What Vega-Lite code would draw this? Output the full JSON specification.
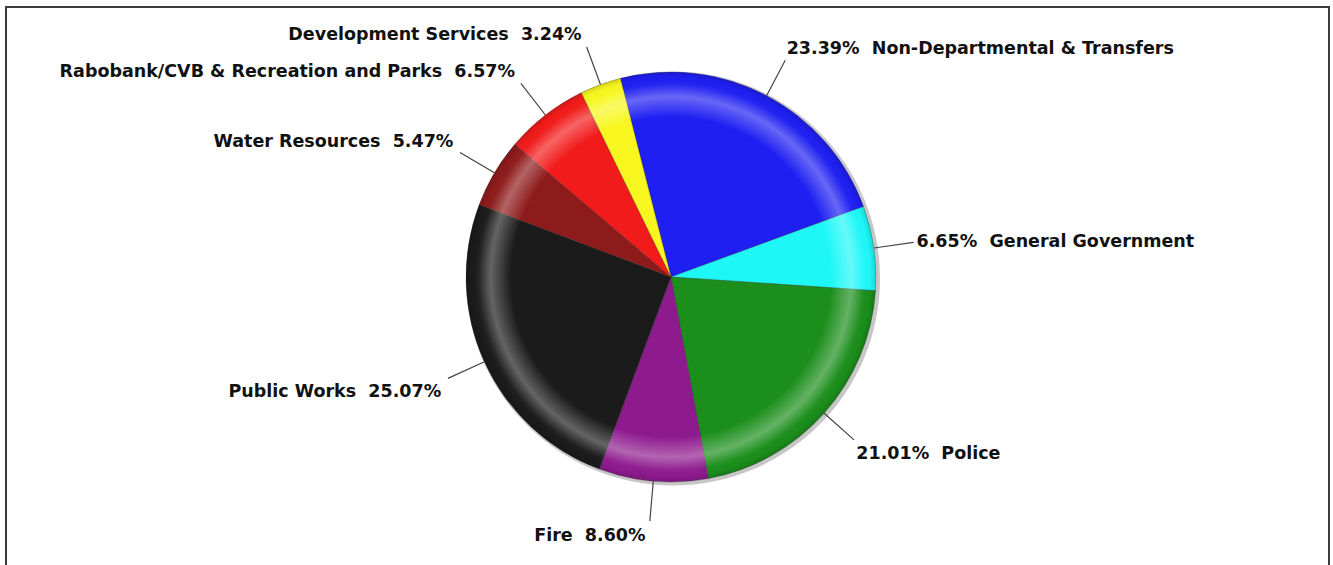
{
  "$schema": "https://vega.github.io/schema/vega-lite/v6.json",
  "width": 1323,
  "height": 560,
  "autosize": {"type": "none"},
  "padding": {"left": 6, "top": 7, "right": 4, "bottom": 0},
  "background": "white",
  "config": {"view": {"stroke": "#3a3a3a", "strokeWidth": 2}},
  "data": {
    "values": [
      {"ord": 1, "name": "Non-Departmental & Transfers", "pct": 23.39, "label": "23.39%\u00a0\u00a0Non-Departmental & Transfers"},
      {"ord": 2, "name": "General Government", "pct": 6.65, "label": "6.65%\u00a0\u00a0General Government"},
      {"ord": 3, "name": "Police", "pct": 21.01, "label": "21.01%\u00a0\u00a0Police"},
      {"ord": 4, "name": "Fire", "pct": 8.60, "label": "Fire\u00a0\u00a08.60%"},
      {"ord": 5, "name": "Public Works", "pct": 25.07, "label": "Public Works\u00a0\u00a025.07%"},
      {"ord": 6, "name": "Water Resources", "pct": 5.47, "label": "Water Resources\u00a0\u00a05.47%"},
      {"ord": 7, "name": "Rabobank/CVB & Recreation and Parks", "pct": 6.57, "label": "Rabobank/CVB & Recreation and Parks\u00a0\u00a06.57%"},
      {"ord": 8, "name": "Development Services", "pct": 3.24, "label": "Development Services\u00a0\u00a03.24%"}
    ]
  },
  "layer": [
    {
      "mark": {"type": "point", "opacity": 0},
      "encoding": {
        "x": {"field": "pct", "type": "quantitative", "axis": null},
        "y": {"field": "ord", "type": "quantitative", "axis": null}
      }
    },
    {
      "data": {"values": [{"k": "shadow"}]},
      "mark": {"type": "arc", "theta": 0, "theta2": 6.2832, "radius": 207, "fill": "#bdbdbd", "fillOpacity": 0.85, "xOffset": 5.5, "yOffset": -8.5},
      "encoding": {}
    },
    {
      "mark": {"type": "arc", "radius": 205, "xOffset": 3.5, "yOffset": -10, "stroke": "#222222", "strokeWidth": 0.5, "strokeOpacity": 0.5},
      "encoding": {
        "theta": {"field": "pct", "type": "quantitative", "stack": true, "scale": {"range": [-0.2496, 6.0336]}},
        "order": {"field": "ord", "type": "quantitative"},
        "color": {
          "field": "name",
          "type": "nominal",
          "scale": {
            "domain": ["Non-Departmental & Transfers", "General Government", "Police", "Fire", "Public Works", "Water Resources", "Rabobank/CVB & Recreation and Parks", "Development Services"],
            "range": ["#1f1ff2", "#1ff7f7", "#1b8e1b", "#8e1b8e", "#1b1b1b", "#8e1b1b", "#f21b1b", "#f7f71f"]
          },
          "legend": null
        }
      }
    },
    {
      "data": {"values": [{"k": "gloss"}]},
      "mark": {
        "type": "arc", "theta": 0, "theta2": 6.2832, "radius": 205, "xOffset": 3.5, "yOffset": -10,
        "fill": {
          "gradient": "radial", "x1": 0.5, "y1": 0.5, "r1": 0, "x2": 0.5, "y2": 0.5, "r2": 0.5,
          "stops": [
            {"offset": 0, "color": "rgba(255,255,255,0)"},
            {"offset": 0.78, "color": "rgba(255,255,255,0)"},
            {"offset": 0.88, "color": "rgba(255,255,255,0.32)"},
            {"offset": 0.94, "color": "rgba(255,255,255,0.04)"},
            {"offset": 0.97, "color": "rgba(0,0,0,0)"},
            {"offset": 1, "color": "rgba(0,0,0,0.14)"}
          ]
        }
      },
      "encoding": {}
    },
    {
      "mark": {"type": "arc", "radius": 245, "radius2": 205, "padAngle": 3, "fill": "white", "fillOpacity": 0, "stroke": "#444444", "strokeWidth": 1.2, "xOffset": 3.5, "yOffset": -10},
      "encoding": {
        "theta": {"field": "pct", "type": "quantitative", "stack": true},
        "order": {"field": "ord", "type": "quantitative"}
      }
    },
    {
      "mark": {
        "type": "text", "radius": 248, "xOffset": 3.5, "yOffset": -10,
        "font": "DejaVu Sans", "fontWeight": "bold", "fontSize": 17.5, "color": "#111111",
        "align": {"expr": "(datum.pct_start + datum.pct_end) / 2 > 50 ? 'right' : 'left'"},
        "dx": {"expr": "(datum.pct_start + datum.pct_end) / 2 > 50 ? -4 : 0"},
        "baseline": {"expr": "cos(((datum.pct_start + datum.pct_end) / 2 * 3.6 - 14.3) * PI / 180) > 0.3 ? 'bottom' : (cos(((datum.pct_start + datum.pct_end) / 2 * 3.6 - 14.3) * PI / 180) < -0.3 ? 'top' : 'middle')"},
        "dy": {"expr": "cos(((datum.pct_start + datum.pct_end) / 2 * 3.6 - 14.3) * PI / 180) < -0.3 ? 3 : 0"}
      },
      "encoding": {
        "theta": {"field": "pct", "type": "quantitative", "stack": true},
        "order": {"field": "ord", "type": "quantitative"},
        "text": {"field": "label"}
      }
    }
  ]
}
